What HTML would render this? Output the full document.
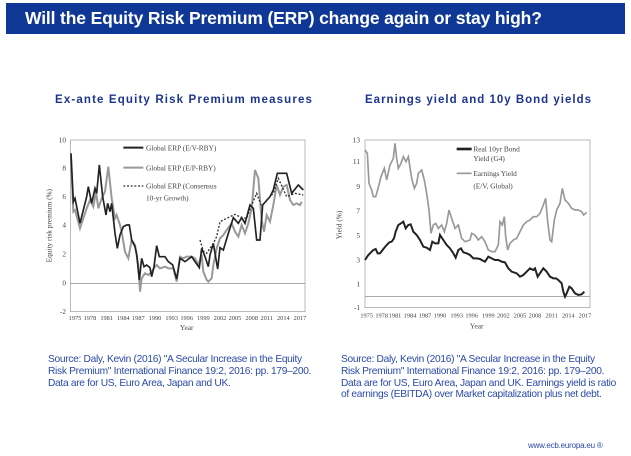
<!DOCTYPE html>
<html><head><meta charset="utf-8"><style>
body{margin:0;width:631px;height:456px;background:#fff;overflow:hidden;position:relative;font-family:"Liberation Sans",Arial,sans-serif}
.bar{position:absolute;left:6px;top:3px;width:619px;height:31px;background:#0f3896;}
.bar span{position:absolute;left:19px;top:5px;color:#fff;font-weight:bold;font-size:17.5px;white-space:nowrap;letter-spacing:-0.15px}
.sub{position:absolute;top:94px;color:#1d3590;font-weight:bold;font-size:11.5px;white-space:nowrap}
.src{position:absolute;top:354px;color:#2a4aa8;font-size:10.2px;line-height:11.8px;letter-spacing:-0.3px;white-space:nowrap}
.ft{position:absolute;left:528px;top:441px;color:#2a4aa8;font-size:8px;letter-spacing:-0.2px}
</style></head><body>
<div class="bar"><span>Will the Equity Risk Premium (ERP) change again or stay high?</span></div>
<div class="sub" style="left:55px;letter-spacing:1.15px">Ex-ante Equity Risk Premium measures</div>
<div class="sub" style="left:365px;letter-spacing:1.0px">Earnings yield and 10y Bond yields</div>
<svg width="631" height="456" style="position:absolute;left:0;top:0" font-family="Liberation Serif,serif">
<g transform="translate(40,125) scale(0.33333)">
<rect x="91" y="45" width="704" height="515" fill="none" stroke="#999" stroke-width="2"/>
<line x1="91" y1="475" x2="795" y2="475" stroke="#777" stroke-width="2"/>
<g font-size="22" fill="#444" text-anchor="end">
<text x="78" y="52">10</text><text x="78" y="137">8</text><text x="78" y="222">6</text><text x="78" y="307">4</text><text x="78" y="395">2</text><text x="78" y="482">0</text><text x="78" y="567">-2</text></g>
<g font-size="19" fill="#444" text-anchor="middle">
<text x="105" y="585">1975</text><text x="150" y="585">1978</text><text x="200" y="585">1981</text><text x="250" y="585">1984</text><text x="295" y="585">1987</text><text x="345" y="585">1990</text><text x="395" y="585">1993</text><text x="440" y="585">1996</text><text x="490" y="585">1999</text><text x="540" y="585">2002</text><text x="585" y="585">2005</text><text x="635" y="585">2008</text><text x="680" y="585">2011</text><text x="730" y="585">2014</text><text x="780" y="585">2017</text>
<text x="440" y="615" font-size="22">Year</text></g>
<text transform="translate(35,302) rotate(-90)" font-size="22" fill="#444" text-anchor="middle">Equity risk premium (%)</text>
<polyline fill="none" stroke="#999" stroke-width="6" points="93,100 100,260 105,255 120,310 140,250 150,225 160,245 168,200 175,250 185,220 195,200 205,125 215,220 225,280 230,270 240,300 245,320 255,380 265,400 275,345 285,360 295,420 300,500 305,460 315,445 325,450 335,440 345,425 350,420 360,430 375,425 385,430 400,430 410,470 420,395 430,400 440,395 455,395 465,400 475,420 485,390 490,440 500,465 505,470 515,460 520,420 530,370 540,340 550,330 560,315 575,295 585,320 595,335 605,300 615,325 625,295 635,250 645,135 655,160 665,285 672,320 680,270 690,290 700,240 710,180 720,210 730,185 740,180 750,225 760,240 770,235 780,240 785,230"/>
<polyline fill="none" stroke="#222" stroke-width="5" points="93,85 100,230 105,220 120,295 140,215 145,185 155,235 165,190 170,205 178,120 188,215 198,270 203,235 210,260 215,235 225,325 232,370 240,330 250,305 260,300 268,300 275,345 285,365 290,388 298,465 305,400 312,425 320,420 330,428 335,455 342,425 350,362 358,395 375,395 385,410 392,415 398,420 410,462 420,400 435,410 455,395 465,410 478,428 485,370 495,395 505,425 510,390 520,355 533,432 540,368 550,375 565,325 580,278 595,295 605,278 615,295 630,240 640,250 650,345 660,345 668,240 690,215 700,195 712,145 740,145 755,205 775,180 790,195"/>
<polyline fill="none" stroke="#333" stroke-width="4" stroke-dasharray="6,5" points="480,345 490,378 500,385 520,355 530,335 540,290 560,280 585,268 605,278 620,280 635,240 650,205 665,245 680,225 700,205 715,160 740,215 765,205 790,210"/>
<line x1="250" y1="68" x2="310" y2="68" stroke="#222" stroke-width="6"/>
<line x1="250" y1="128" x2="310" y2="128" stroke="#999" stroke-width="6"/>
<line x1="250" y1="183" x2="310" y2="183" stroke="#333" stroke-width="4" stroke-dasharray="6,5"/>
<g font-size="22" fill="#444"><text x="318" y="76">Global ERP (E/V-RBY)</text><text x="318" y="136">Global ERP (E/P-RBY)</text><text x="318" y="191">Global ERP (Consensus</text><text x="318" y="226">10-yr Growth)</text></g>
</g>
<g transform="translate(325,125) scale(0.33333)">
<rect x="120" y="45" width="675" height="503" fill="none" stroke="#999" stroke-width="2"/>
<line x1="120" y1="515" x2="795" y2="515" stroke="#777" stroke-width="2"/>
<g font-size="22" fill="#444" text-anchor="end">
<text x="105" y="52">13</text><text x="105" y="117">11</text><text x="105" y="192">9</text><text x="105" y="265">7</text><text x="105" y="339">5</text><text x="105" y="412">3</text><text x="105" y="485">1</text><text x="105" y="555">-1</text></g>
<g font-size="19" fill="#444" text-anchor="middle">
<text x="125" y="577">1975</text><text x="170" y="577">1978</text><text x="210" y="577">1981</text><text x="255" y="577">1984</text><text x="300" y="577">1987</text><text x="345" y="577">1990</text><text x="395" y="577">1993</text><text x="440" y="577">1996</text><text x="490" y="577">1999</text><text x="535" y="577">2002</text><text x="585" y="577">2005</text><text x="630" y="577">2008</text><text x="680" y="577">2011</text><text x="730" y="577">2014</text><text x="780" y="577">2017</text>
<text x="455" y="610" font-size="22">Year</text></g>
<text transform="translate(50,300) rotate(-90)" font-size="22" fill="#444" text-anchor="middle">Yield (%)</text>
<polyline fill="none" stroke="#999" stroke-width="5" points="120,75 127,85 132,175 140,195 145,215 152,215 158,195 168,155 178,130 185,165 195,120 205,100 210,55 215,100 220,130 228,115 235,95 243,110 250,95 260,160 268,190 275,175 280,145 290,135 298,165 305,205 312,255 318,325 325,300 332,295 340,310 350,300 358,320 365,295 372,255 380,280 390,310 400,300 410,340 420,350 435,345 440,325 450,330 460,345 470,335 480,350 490,375 500,380 510,380 520,360 525,290 532,300 538,275 542,335 548,375 555,355 565,345 575,340 585,320 595,300 605,290 615,285 625,275 635,275 645,265 655,240 662,220 668,290 675,345 680,350 688,285 695,255 705,235 712,190 720,225 730,235 740,250 750,255 760,255 770,260 776,270 785,262"/>
<polyline fill="none" stroke="#222" stroke-width="6" points="120,405 130,390 145,375 152,372 158,385 165,385 175,372 185,360 193,352 200,350 207,340 212,320 220,300 228,295 235,290 242,310 250,300 257,298 265,320 275,330 285,345 295,365 305,368 315,375 322,350 330,355 340,355 345,330 355,345 365,360 375,370 385,385 392,398 400,375 408,370 415,382 425,385 435,390 445,400 455,400 465,402 470,405 480,410 490,395 500,400 510,405 520,405 530,410 540,412 550,430 560,440 575,445 585,455 595,450 605,440 615,430 625,435 630,430 638,455 648,440 655,430 665,440 675,455 685,460 693,460 700,465 710,475 715,500 720,515 725,505 733,485 740,490 750,505 760,510 770,508 778,500"/>
<line x1="395" y1="72" x2="440" y2="72" stroke="#222" stroke-width="8"/>
<line x1="395" y1="145" x2="440" y2="145" stroke="#999" stroke-width="5"/>
<g font-size="22" fill="#444"><text x="445" y="80">Real 10yr Bond</text><text x="445" y="108">Yield (G4)</text><text x="445" y="153">Earnings Yield</text><text x="445" y="190">(E/V, Global)</text></g>
</g>
</svg>
<div class="src" style="left:48px">Source: Daly, Kevin (2016) "A Secular Increase in the Equity<br>Risk Premium" International Finance 19:2, 2016: pp. 179–200.<br>Data are for US, Euro Area, Japan and UK.</div>
<div class="src" style="left:341px">Source: Daly, Kevin (2016) "A Secular Increase in the Equity<br>Risk Premium" International Finance 19:2, 2016: pp. 179–200.<br>Data are for US, Euro Area, Japan and UK. Earnings yield is ratio<br>of earnings (EBITDA) over Market capitalization plus net debt.</div>
<div class="ft">www.ecb.europa.eu ®</div>
</body></html>
